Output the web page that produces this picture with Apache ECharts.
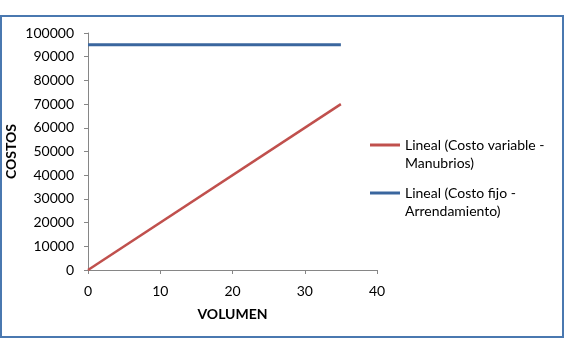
<!DOCTYPE html>
<html>
<head>
    <meta charset="utf-8">
    <title>Costos</title>
    <script src="https://cdn.jsdelivr.net/npm/echarts@6/dist/echarts.min.js"></script>
    <style>
        html, body { margin: 0; padding: 0; background: #fff; }
    </style>
</head>
<body>
    <div id="chart" style="width: 585px; height: 340px;"></div>
    <script type="text/javascript">
        // datos
        var volumen = [0, 35];
        var costoVariable = [0, 70000];
        var costoFijo = [95000, 95000];
        var nombres = ['Lineal (Costo variable -\nManubrios)', 'Lineal (Costo fijo -\nArrendamiento)'];

        var chart = echarts.init(document.getElementById('chart'));
        var font = 'Lato, "Open Sans", sans-serif';

        // una leyenda por serie, el icono alineado con la primera linea
        function leyenda(nombre, top) {
            return {
                orient: 'vertical',
                left: 370,
                top: top,
                padding: 0,
                itemWidth: 30,
                itemHeight: 3,
                icon: 'rect',
                formatter: function (n) { return '\n' + n; },
                textStyle: { fontFamily: font, fontSize: 14, color: '#000', lineHeight: 18 },
                data: [nombre]
            };
        }

        var option = {
            backgroundColor: '#fff',
            animation: false,
            textStyle: { fontFamily: font },
            graphic: [{
                type: 'rect',
                shape: { x: 1, y: 16, width: 562, height: 321 },
                style: { fill: 'none', stroke: '#4A78B0', lineWidth: 2 }
            }],
            grid: { left: 88, right: 208, top: 33, bottom: 70 },
            legend: [leyenda(nombres[0], 118), leyenda(nombres[1], 166)],
            xAxis: {
                type: 'value',
                min: 0,
                max: 40,
                interval: 10,
                name: 'VOLUMEN',
                nameLocation: 'middle',
                nameGap: 37,
                nameTextStyle: { fontFamily: font, fontWeight: 'bold', fontSize: 14, color: '#000' },
                splitLine: { show: false },
                axisLine: { lineStyle: { color: '#868686', width: 1 } },
                axisTick: { show: true, length: 4, lineStyle: { color: '#868686' } },
                axisLabel: { margin: 14, fontSize: 14, color: '#000', fontFamily: font }
            },
            yAxis: {
                type: 'value',
                min: 0,
                max: 100000,
                interval: 10000,
                name: 'COSTOS',
                nameLocation: 'middle',
                nameRotate: 90,
                nameGap: 70,
                nameTextStyle: { fontFamily: font, fontWeight: 'bold', fontSize: 14, color: '#000' },
                splitLine: { show: false },
                axisLine: { show: true, lineStyle: { color: '#868686', width: 1 } },
                axisTick: { show: true, length: 4, lineStyle: { color: '#868686' } },
                axisLabel: {
                    margin: 14, fontSize: 14, color: '#000', fontFamily: font,
                    formatter: function (v) { return String(v); }
                }
            },
            series: [
                {
                    name: nombres[0],
                    type: 'line',
                    showSymbol: false,
                    color: '#C0504D',
                    lineStyle: { width: 2.5, color: '#C0504D' },
                    data: volumen.map(function (v, i) { return [v, costoVariable[i]]; })
                },
                {
                    name: nombres[1],
                    type: 'line',
                    showSymbol: false,
                    color: '#3A669E',
                    lineStyle: { width: 3, color: '#3A669E' },
                    data: volumen.map(function (v, i) { return [v, costoFijo[i]]; })
                }
            ]
        };

        chart.setOption(option);
    </script>
</body>
</html>
